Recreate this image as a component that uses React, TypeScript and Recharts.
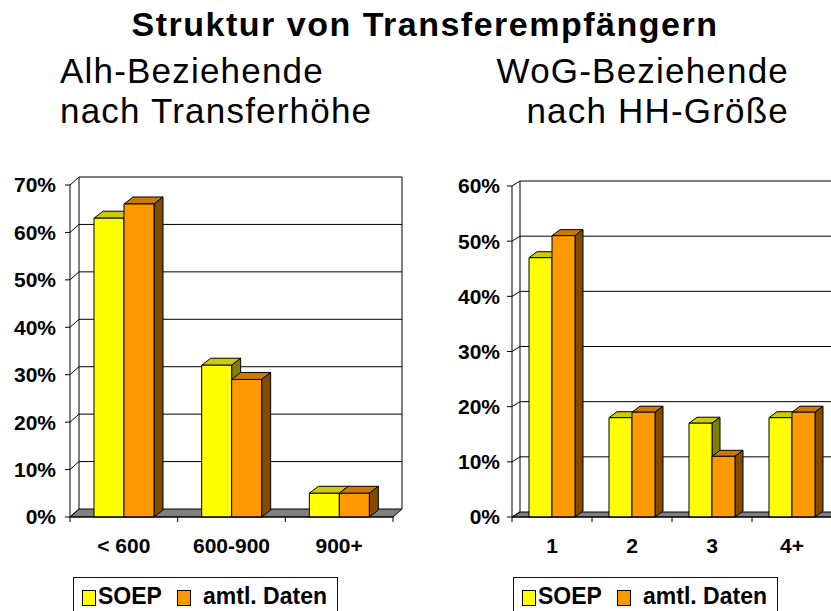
import React from 'react';
import { BarChart, Bar, XAxis, YAxis, CartesianGrid } from 'recharts';

// Alh-Beziehende nach Transferhöhe
const amountCategories = ['< 600', '600-900', '900+'];
const amountSoep = [63, 32, 5];
const amountOfficial = [66, 29, 5];
const amountTicks = [0, 10, 20, 30, 40, 50, 60, 70];

// WoG-Beziehende nach HH-Größe
const sizeCategories = ['1', '2', '3', '4+'];
const sizeSoep = [47, 18, 17, 18];
const sizeOfficial = [51, 19, 11, 19];
const sizeTicks = [0, 10, 20, 30, 40, 50, 60];

const seriesNames = ['SOEP', 'amtl. Daten'];

const FONT = '"Liberation Sans", Arial, Helvetica, sans-serif';
const XAXIS_HEIGHT = 63;

const YELLOW = { front: '#FFFF00', top: '#CCCC00', side: '#808000' };
const ORANGE = { front: '#FF9900', top: '#CC7A00', side: '#7F4C00' };

type Depth = { dx: number; dy: number };

// front face + top + right side, like the old 3D column charts
const makeBar3D = (colors: typeof YELLOW, d: Depth) => (props: any) => {
  const { x, y, width, height } = props;
  if (height == null || width == null) return null;
  const { dx, dy } = d;
  return (
    <g stroke="#000" strokeWidth={1} strokeLinejoin="round">
      <polygon
        points={`${x},${y} ${x + dx},${y - dy} ${x + width + dx},${y - dy} ${x + width},${y}`}
        fill={colors.top}
      />
      <polygon
        points={`${x + width},${y} ${x + width + dx},${y - dy} ${x + width + dx},${y + height - dy} ${x + width},${y + height}`}
        fill={colors.side}
      />
      <rect x={x} y={y} width={width} height={height} fill={colors.front} />
    </g>
  );
};

interface ChartProps {
  categories: string[];
  soep: number[];
  official: number[];
  ticks: number[];
  width: number;
  height: number;
  top: number;
  right: number;
  axisWidth: number;
  tickMargin: number;
  barSize: number;
  wall: Depth;
  bar: Depth;
}

const Column3DChart: React.FC<ChartProps> = ({
  categories, soep, official, ticks, width, height, top, right, axisWidth, tickMargin, barSize, wall, bar,
}) => {
  const data = categories.map((name, i) => ({ name, soep: soep[i], official: official[i] }));
  const plotBottom = height - XAXIS_HEIGHT;
  const band = (width - right - axisWidth) / categories.length;
  const { dx, dy } = wall;

  const renderWallLine = (p: any) => {
    const { x1, x2, y1, index } = p;
    const isFloor = Math.abs(y1 - plotBottom) < 1;
    const isTop = Math.abs(y1 - top) < 1;
    return (
      <g key={`wall-${index}`} stroke="#000" strokeWidth={1}>
        {isFloor ? (
          <polygon
            points={`${x1},${y1} ${x1 + dx},${y1 - dy} ${x2 + dx},${y1 - dy} ${x2},${y1}`}
            fill="#808080"
          />
        ) : (
          <line x1={x1 + dx} y1={y1 - dy} x2={x2 + dx} y2={y1 - dy} />
        )}
        <line x1={x1} y1={y1} x2={x1 + dx} y2={y1 - dy} />
        {isTop && (
          <>
            <line x1={x1 + dx} y1={y1 - dy} x2={x1 + dx} y2={plotBottom - dy} />
            <line x1={x2 + dx} y1={y1 - dy} x2={x2 + dx} y2={plotBottom - dy} />
          </>
        )}
      </g>
    );
  };

  const CategoryTick = (p: any) => {
    const { x, payload, index } = p;
    return (
      <g>
        <line x1={x - band / 2} y1={plotBottom} x2={x - band / 2} y2={plotBottom + 5} stroke="#000" />
        {index === categories.length - 1 && (
          <line x1={x + band / 2} y1={plotBottom} x2={x + band / 2} y2={plotBottom + 5} stroke="#000" />
        )}
        <text
          x={x}
          y={plotBottom + 36}
          textAnchor="middle"
          fontFamily={FONT}
          fontSize={21}
          fontWeight="bold"
          fill="#000"
        >
          {payload.value}
        </text>
      </g>
    );
  };

  return (
    <BarChart
      width={width}
      height={height}
      data={data}
      margin={{ top, right, bottom: 0, left: 0 }}
      barGap={0}
    >
      <CartesianGrid horizontal={renderWallLine} vertical={false} stroke="#000" />
      <XAxis
        dataKey="name"
        height={XAXIS_HEIGHT}
        interval={0}
        tickLine={false}
        axisLine={{ stroke: '#000' }}
        tick={<CategoryTick />}
      />
      <YAxis
        width={axisWidth}
        domain={[0, ticks[ticks.length - 1]]}
        ticks={ticks}
        interval={0}
        tickSize={5}
        tickMargin={tickMargin}
        axisLine={{ stroke: '#000' }}
        tickLine={{ stroke: '#000' }}
        tickFormatter={(v) => `${v}%`}
        tick={{ fontFamily: FONT, fontSize: 21, fontWeight: 'bold', fill: '#000' }}
      />
      <Bar dataKey="soep" name={seriesNames[0]} barSize={barSize} shape={makeBar3D(YELLOW, bar)} isAnimationActive={false} />
      <Bar dataKey="official" name={seriesNames[1]} barSize={barSize} shape={makeBar3D(ORANGE, bar)} isAnimationActive={false} />
    </BarChart>
  );
};

const swatch = (color: string, left: number): React.CSSProperties => ({
  position: 'absolute', left, top: 12, width: 12, height: 14, background: color, border: '1px solid #000',
});

const LegendBox: React.FC<{ left: number }> = ({ left }) => (
  <div
    style={{
      position: 'absolute', left, top: 577, width: 265, height: 46,
      border: '1.5px solid #111', boxSizing: 'border-box',
      fontFamily: FONT, fontWeight: 'bold', fontSize: 23, lineHeight: '23px', color: '#000',
    }}
  >
    <div style={swatch(YELLOW.front, 8)} />
    <div style={{ position: 'absolute', left: 24, top: 7 }}>{seriesNames[0]}</div>
    <div style={swatch(ORANGE.front, 103)} />
    <div style={{ position: 'absolute', left: 129, top: 7, whiteSpace: 'nowrap' }}>{seriesNames[1]}</div>
  </div>
);

export default function App() {
  return (
    <div
      style={{
        position: 'fixed', left: 0, top: 0, width: 831, height: 611,
        overflow: 'hidden', background: '#fff',
      }}
    >
      <svg width={831} height={140} style={{ position: 'absolute', left: 0, top: 0 }}>
        <text x={425} y={35.5} textAnchor="middle" fontFamily={FONT} fontSize={34} fontWeight="bold" letterSpacing={1.5}>
          Struktur von Transferempfängern
        </text>
        <text x={60} y={83} fontFamily={FONT} fontSize={35} letterSpacing={1.2}>Alh-Beziehende</text>
        <text x={60} y={122.5} fontFamily={FONT} fontSize={35} letterSpacing={1.2}>nach Transferhöhe</text>
        <text x={789} y={83} textAnchor="end" fontFamily={FONT} fontSize={35} letterSpacing={1.2}>WoG-Beziehende</text>
        <text x={789} y={122.5} textAnchor="end" fontFamily={FONT} fontSize={35} letterSpacing={1.2}>nach HH-Größe</text>
      </svg>

      <div style={{ position: 'absolute', left: 0, top: 0 }}>
        <Column3DChart
          categories={amountCategories}
          soep={amountSoep}
          official={amountOfficial}
          ticks={amountTicks}
          width={420}
          height={580}
          top={185}
          right={27}
          axisWidth={70}
          tickMargin={9}
          barSize={30}
          wall={{ dx: 9, dy: 8 }}
          bar={{ dx: 9, dy: 7 }}
        />
      </div>

      <div style={{ position: 'absolute', left: 420, top: 0 }}>
        <Column3DChart
          categories={sizeCategories}
          soep={sizeSoep}
          official={sizeOfficial}
          ticks={sizeTicks}
          width={440}
          height={580}
          top={186}
          right={28}
          axisWidth={92}
          tickMargin={7}
          barSize={23}
          wall={{ dx: 8, dy: 5 }}
          bar={{ dx: 8, dy: 6 }}
        />
      </div>

      <LegendBox left={73} />
      <LegendBox left={513} />
    </div>
  );
}
